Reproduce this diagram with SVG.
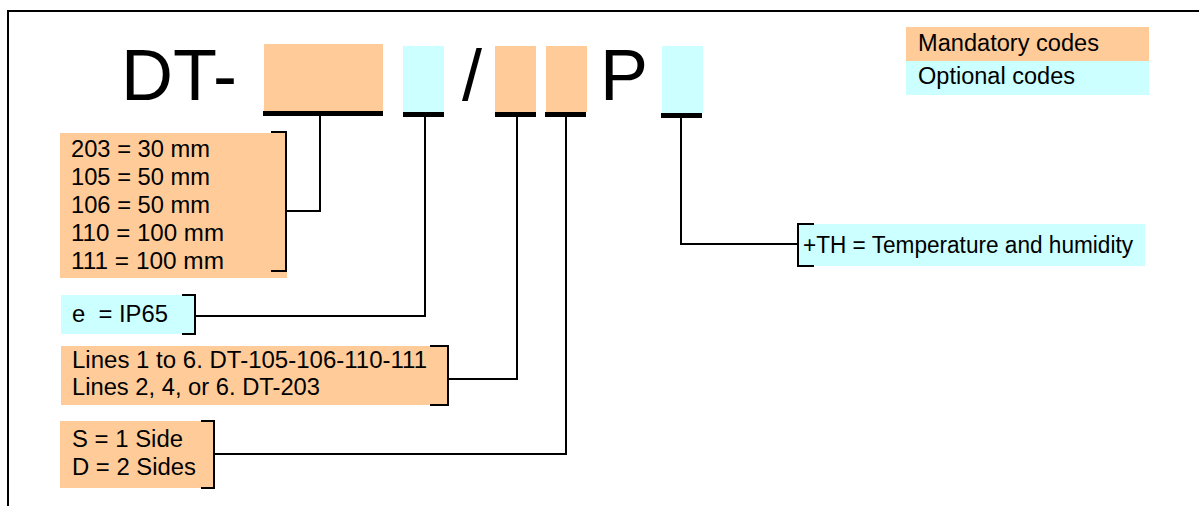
<svg xmlns="http://www.w3.org/2000/svg" width="1199" height="506" viewBox="0 0 1199 506">
<style>
.or{fill:#FFCC99}
.cy{fill:#CCFFFF}
.bar{fill:#000}
.big{font-family:"Liberation Sans",Arial,sans-serif;font-size:72px;fill:#000}
.t{font-family:"Liberation Sans",Arial,sans-serif;font-size:23px;fill:#000}
.br{fill:none;stroke:#000;stroke-width:2}
.cn{fill:none;stroke:#000;stroke-width:2}
</style>
<rect x="0" y="0" width="1199" height="506" fill="#fff"/>
<rect x="8" y="11" width="1300" height="600" fill="none" stroke="#000" stroke-width="2"/>

<g id="code">
<text class="big" x="121" y="100">DT-</text>
<rect class="or" x="264" y="44" width="119" height="67"/>
<rect class="bar" x="263" y="111" width="120" height="5"/>
<rect class="cy" x="403" y="46" width="41" height="66"/>
<rect class="bar" x="403" y="112" width="41" height="5"/>
<text class="big" x="462" y="100">/</text>
<rect class="or" x="495" y="46" width="41" height="66"/>
<rect class="bar" x="495" y="112" width="41" height="5"/>
<rect class="or" x="546" y="46" width="41" height="66"/>
<rect class="bar" x="545" y="112" width="41" height="5"/>
<text class="big" x="600" y="100">P</text>
<rect class="cy" x="662" y="46" width="41" height="67"/>
<rect class="bar" x="661" y="113" width="41" height="5"/>
</g>

<g id="legend">
<rect class="or" x="906" y="27" width="243" height="34"/>
<rect class="cy" x="906" y="61" width="243" height="34"/>
<text class="t" x="918" y="51" style="font-size:23.5px" textLength="181" lengthAdjust="spacingAndGlyphs">Mandatory codes</text>
<text class="t" x="918" y="84" style="font-size:23.5px" textLength="157" lengthAdjust="spacingAndGlyphs">Optional codes</text>
</g>

<g id="sizes">
<rect class="or" x="60" y="133" width="227" height="145"/>
<path class="br" d="M271 132 H286 V271 H271"/>
<text class="t" x="71" y="157" textLength="139" lengthAdjust="spacingAndGlyphs">203 = 30 mm</text>
<text class="t" x="71" y="185" textLength="139" lengthAdjust="spacingAndGlyphs">105 = 50 mm</text>
<text class="t" x="71" y="213" textLength="139" lengthAdjust="spacingAndGlyphs">106 = 50 mm</text>
<text class="t" x="71" y="241" textLength="153" lengthAdjust="spacingAndGlyphs">110 = 100 mm</text>
<text class="t" x="71" y="269" textLength="153" lengthAdjust="spacingAndGlyphs">111 = 100 mm</text>
</g>

<g id="ip">
<rect class="cy" x="61" y="295" width="134" height="39"/>
<path class="br" d="M182 295 H195 V334 H182"/>
<text class="t" x="72" y="322" xml:space="preserve" textLength="96" lengthAdjust="spacingAndGlyphs">e  = IP65</text>
</g>

<g id="lines">
<rect class="or" x="61" y="346" width="387" height="59"/>
<path class="br" d="M430 346 H448 V405 H430"/>
<text class="t" x="72" y="368" textLength="355" lengthAdjust="spacingAndGlyphs">Lines 1 to 6. DT-105-106-110-111</text>
<text class="t" x="72" y="395" textLength="248" lengthAdjust="spacingAndGlyphs">Lines 2, 4, or 6. DT-203</text>
</g>

<g id="sides">
<rect class="or" x="60" y="421" width="154" height="67"/>
<path class="br" d="M201 421 H214 V488 H201"/>
<text class="t" x="72" y="447" textLength="111" lengthAdjust="spacingAndGlyphs">S = 1 Side</text>
<text class="t" x="72" y="475" textLength="124" lengthAdjust="spacingAndGlyphs">D = 2 Sides</text>
</g>

<g id="th">
<rect class="cy" x="797" y="224" width="348" height="42"/>
<path class="br" d="M814 224 H798 V266 H814"/>
<text class="t" x="803" y="253" textLength="330" lengthAdjust="spacingAndGlyphs">+TH = Temperature and humidity</text>
</g>

<g id="connectors">
<path class="cn" d="M320 116 V211 H286"/>
<path class="cn" d="M425 117 V316 H195"/>
<path class="cn" d="M517 117 V379 H448"/>
<path class="cn" d="M566 117 V454 H214"/>
<path class="cn" d="M681 118 V244 H798"/>
</g>
</svg>
